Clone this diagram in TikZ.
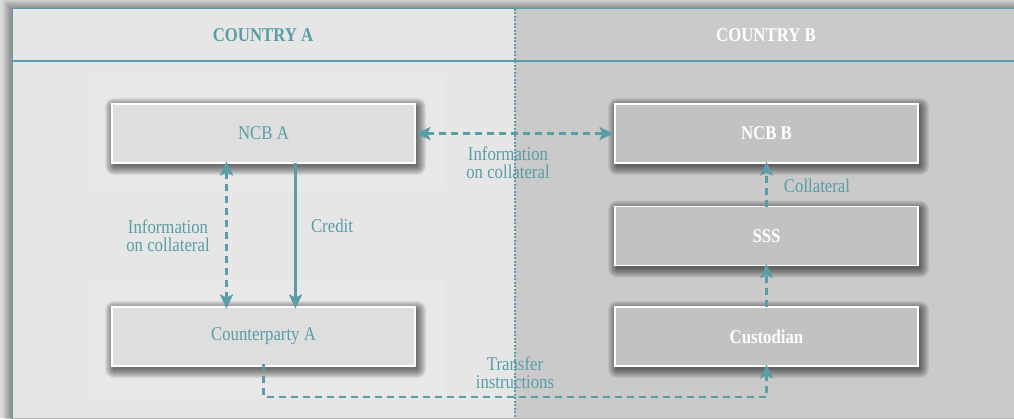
\documentclass[tikz,border=0pt]{standalone}
\usepackage{fontspec}
\setmainfont{Liberation Serif}[FakeStretch=0.86]
\usetikzlibrary{arrows.meta}
\definecolor{tealc}{HTML}{5A9DA7}
\definecolor{outbg}{HTML}{D9D9D9}
\definecolor{leftbg}{HTML}{E6E6E6}
\definecolor{rightbg}{HTML}{C9CAC9}
\definecolor{leftbox}{HTML}{DEDEDE}
\definecolor{rightbox}{HTML}{C1C2C1}
\pgfdeclarelayer{back}
\pgfdeclarelayer{shade}
\pgfsetlayers{back,shade,main}
\newcommand\softhalo[1]{%
  \fill[white, opacity=0.1] ([shift={(-24,28)}]#1.south west) rectangle ([shift={(28,-27)}]#1.north east);}
\newcommand\softshadow[1]{%
  \foreach \e in {0,...,9}{%
    \fill[black, opacity=0.068, rounded corners=\e pt]
      ([shift={({2-\e},{3+\e})}]#1.south west) rectangle ([shift={({2+\e},{3-\e})}]#1.north east);}}
\tikzset{
  basebox/.style={draw=white, line width=1.5pt, minimum width=303pt, minimum height=59pt,
    inner sep=0pt, outer sep=0pt, font=\fontsize{19.5}{18}\selectfont},
  leftboxst/.style={basebox, fill=leftbox, text=tealc},
  rightboxst/.style={basebox, fill=rightbox, text=white, font=\fontsize{19.5}{18}\selectfont\bfseries},
  lbl/.style={text=tealc, align=center, inner sep=0pt, font=\fontsize{19.5}{18}\selectfont},
  head/.style={inner sep=0pt, font=\fontsize{19.5}{18}\selectfont\bfseries},
  conn/.style={draw=tealc, line width=2.4pt},
  dconn/.style={conn, dash pattern=on 7pt off 5pt},
  tip/.style={-{Stealth[length=14pt,width=13pt,inset=3pt]}},
  tips/.style={{Stealth[length=14pt,width=13pt,inset=3pt]}-{Stealth[length=14pt,width=13pt,inset=3pt]}},
}
\begin{document}
\begin{tikzpicture}[x=1pt,y=-1pt]
\useasboundingbox (0,0) rectangle (1014,418);
\begin{pgfonlayer}{back}
\fill[outbg] (0,0) rectangle (1014,418);
% frame shadow
\foreach \e in {0,...,7}{%
  \fill[black, opacity=0.045] ({12-2-\e},{8.5-1.5-\e}) rectangle (1030,440);}
\fill[leftbg] (12,8.5) rectangle (515,418);
\fill[rightbg] (515,8.5) rectangle (1014,418);
\draw[tealc, line width=1pt] (12,430) -- (12,8.5) -- (1014,8.5);
\draw[tealc, line width=2pt] (12,61) -- (1014,61);
\draw[tealc, line width=1.1pt, dash pattern=on 2pt off 1.5pt] (515,8.5) -- (515,418);
\end{pgfonlayer}
% headers
\node[head, text=tealc] (hA) at (263,35) {COUNTRY A};
\node[head, text=white] (hB) at (766,35) {COUNTRY B};
% boxes
\node[leftboxst] (ncba) at (263.5,133.5) {NCB A};
\node[leftboxst] (cpa) at (263.5,336.5) {Counterparty A};
\node[rightboxst] (ncbb) at (766.5,133.5) {NCB B};
\node[rightboxst] (sss) at (766.5,236) {SSS};
\node[rightboxst] (cust) at (766.5,336.5) {Custodian};
\begin{pgfonlayer}{shade}
\softhalo{ncba}\softhalo{cpa}
\softshadow{ncba}\softshadow{cpa}\softshadow{ncbb}\softshadow{sss}\softshadow{cust}
\end{pgfonlayer}
% connectors
\draw[dconn, tips] ([xshift=1.5pt]ncba.east) -- ([xshift=-1.5pt]ncbb.west);
\draw[dconn, tips] ([xshift=-37pt,yshift=1.5pt]ncba.south) -- ([xshift=-37pt,yshift=-1.5pt]cpa.north);
\draw[conn, tip] ([xshift=32pt]ncba.south) -- ([xshift=32pt,yshift=-1.5pt]cpa.north);
\draw[dconn, tip] (sss.north) -- ([yshift=1.5pt]ncbb.south);
\draw[dconn, tip] (cust.north) -- ([yshift=1.5pt]sss.south);
\draw[dconn, tip] ([yshift=2pt]cpa.south) -- ++(0,33) -| ([yshift=1.5pt]cust.south);
% labels
\node[lbl] (l1) at (508,163) {Information\\on collateral};
\node[lbl] (l2) at (168,236) {Information\\on collateral};
\node[lbl] (l3) at (332,226) {Credit};
\node[lbl] (l4) at (817,186) {Collateral};
\node[lbl] (l5) at (515,373) {Transfer\\instructions};
\end{tikzpicture}
\end{document}
